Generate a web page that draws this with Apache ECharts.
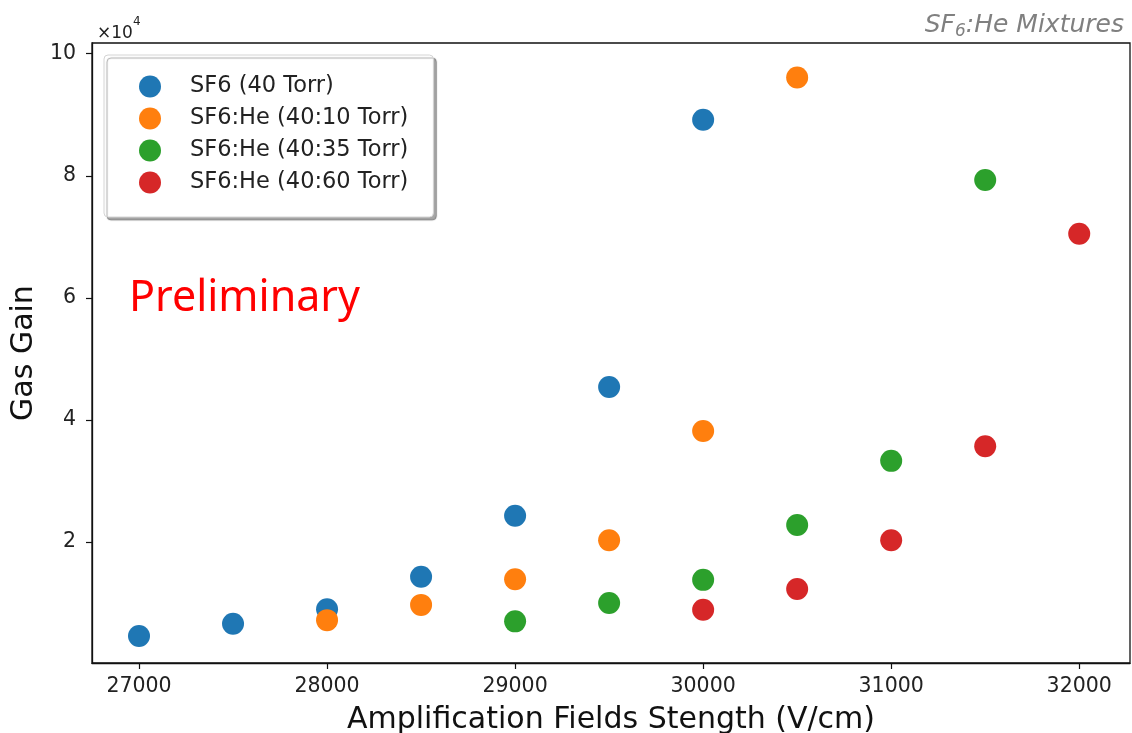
<!DOCTYPE html>
<html>
<head>
<meta charset="utf-8">
<script src="https://cdn.jsdelivr.net/npm/echarts@6/dist/echarts.min.js"></script>
<style>
  html, body { margin: 0; padding: 0; background: #fff; }
  #chart { width: 1132px; height: 733px; }
</style>
</head>
<body>
<div id="chart"></div>
<script>
// Gas gain versus amplification field for SF6 and SF6:He mixtures
const seriesNames = ['SF6 (40 Torr)', 'SF6:He (40:10 Torr)', 'SF6:He (40:35 Torr)', 'SF6:He (40:60 Torr)'];
const seriesColors = ['#1f77b4', '#ff7f0e', '#2ca02c', '#d62728'];

const fieldSF6 = [27000, 27500, 28000, 28500, 29000, 29500, 30000];
const gainSF6 = [4600, 6600, 9000, 14300, 24300, 45400, 89200];

const fieldHe10 = [28000, 28500, 29000, 29500, 30000, 30500];
const gainHe10 = [7200, 9700, 13900, 20300, 38200, 96100];

const fieldHe35 = [29000, 29500, 30000, 30500, 31000, 31500];
const gainHe35 = [7000, 10000, 13800, 22800, 33300, 79300];

const fieldHe60 = [30000, 30500, 31000, 31500, 32000];
const gainHe60 = [8900, 12300, 20300, 35700, 70500];

const xTicks = [27000, 28000, 29000, 30000, 31000, 32000];
const yTicks = [20000, 40000, 60000, 80000, 100000];

const fields = [fieldSF6, fieldHe10, fieldHe35, fieldHe60];
const gains = [gainSF6, gainHe10, gainHe35, gainHe60];

const font = 'DejaVu Sans';

const chart = echarts.init(document.getElementById('chart'));

const series = seriesNames.map((name, i) => ({
  name: name,
  type: 'scatter',
  symbol: 'circle',
  symbolSize: 22,
  itemStyle: { color: seriesColors[i], opacity: 1 },
  data: fields[i].map((x, j) => [x, gains[i][j]]),
  z: 3
}));

chart.setOption({
  animation: false,
  backgroundColor: '#ffffff',
  title: [
    {
      text: '{a|SF}{b|6}{a|:He Mixtures}',
      right: 3,
      top: 5,
      textStyle: {
        rich: {
          a: { fontFamily: font, fontStyle: 'italic', fontWeight: 'normal', fontSize: 25, color: '#808080', lineHeight: 30 },
          b: { fontFamily: font, fontStyle: 'italic', fontWeight: 'normal', fontSize: 17, color: '#808080', lineHeight: 17, verticalAlign: 'bottom' }
        }
      }
    },
    {
      text: '{a|×10}{s|4}',
      left: 92,
      top: 11,
      textStyle: {
        rich: {
          a: { fontFamily: font, fontWeight: 'normal', fontSize: 17, color: '#222', lineHeight: 20, verticalAlign: 'bottom' },
          s: { fontFamily: font, fontWeight: 'normal', fontSize: 12, color: '#222', lineHeight: 26, verticalAlign: 'top' }
        }
      }
    }
  ],
  legend: {
    orient: 'vertical',
    left: 104,
    top: 55,
    padding: [20, 25, 23, 35],
    itemWidth: 70,
    itemHeight: 22,
    itemGap: 9,
    icon: 'circle',
    data: seriesNames,
    backgroundColor: '#ffffff',
    borderColor: '#d4d4d4',
    borderWidth: 1,
    borderRadius: 4,
    shadowColor: 'rgba(0,0,0,0.35)',
    shadowBlur: 1,
    shadowOffsetX: 3,
    shadowOffsetY: 3,
    textStyle: { fontFamily: font, fontSize: 22.5, color: '#222' }
  },
  grid: {
    left: 92,
    right: 2,
    top: 43,
    bottom: 70,
    outerBoundsMode: 'none',
    containLabel: false,
    show: true,
    borderColor: '#111',
    borderWidth: 1.3,
    backgroundColor: 'transparent'
  },
  xAxis: {
    type: 'value',
    min: 26750,
    max: 32270,
    name: 'Amplification Fields Stength (V/cm)',
    nameLocation: 'middle',
    nameGap: 42,
    nameTextStyle: { fontFamily: font, fontSize: 30, color: '#111' },
    axisLine: { show: true, onZero: false, lineStyle: { color: '#111', width: 1.3 } },
    axisTick: { show: true, length: 6, customValues: xTicks, lineStyle: { color: '#111', width: 1.2 } },
    axisLabel: {
      customValues: xTicks,
      margin: 13,
      fontFamily: font,
      fontSize: 20.5,
      color: '#222',
      formatter: v => String(v)
    },
    splitLine: { show: false }
  },
  yAxis: {
    type: 'value',
    min: 180,
    max: 101760,
    name: 'Gas Gain',
    nameLocation: 'middle',
    nameGap: 48,
    nameTextStyle: { fontFamily: font, fontSize: 30, color: '#111' },
    axisLine: { show: true, onZero: false, lineStyle: { color: '#111', width: 1.3 } },
    axisTick: { show: true, length: 6, customValues: yTicks, lineStyle: { color: '#111', width: 1.2 } },
    axisLabel: {
      customValues: yTicks,
      margin: 16,
      fontFamily: font,
      fontSize: 20.5,
      color: '#222',
      formatter: v => String(Math.round(v / 10000))
    },
    splitLine: { show: false }
  },
  graphic: [
    {
      type: 'text',
      left: 129,
      top: 277,
      z: 10,
      style: {
        text: 'Preliminary',
        fontFamily: 'Noto Sans',
        fontSize: 43,
        fill: '#ff0000'
      }
    }
  ],
  series: series
});
</script>
</body>
</html>
